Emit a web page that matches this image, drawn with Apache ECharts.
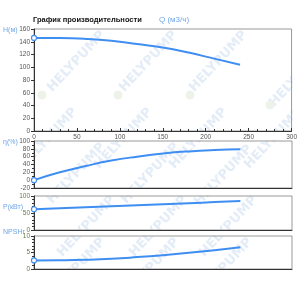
<!DOCTYPE html>
<html>
<head>
<meta charset="utf-8">
<script src="https://cdn.jsdelivr.net/npm/echarts@6/dist/echarts.min.js"></script>
<style>
html,body{margin:0;padding:0;background:#fff;}
#chart{width:300px;height:292px;}
</style>
</head>
<body>
<div id="chart"></div>
<script>
// данные кривых насоса
var flow = [0, 30, 60, 90, 120, 150, 180, 210, 240];
var head = [146, 145.8, 144.5, 141.5, 136.5, 131, 123, 113.5, 104];
var efficiency = [0, 20, 36, 50, 60, 68, 73.5, 77, 79];
var power = [61, 64, 67, 70, 73, 76, 79, 82, 85];
var npsh = [2.6, 2.65, 2.8, 3.1, 3.6, 4.2, 4.9, 5.7, 6.6];
var axisNames = ['H(м)', 'η(%)', 'P(кВт)', 'NPSHr'];

var lineColor = '#3f8ef2';
var font = 'Liberation Sans';

function pairs(ys){
	return flow.map(function(x, i){
		return { value: [x, ys[i]], symbol: i === 0 ? 'circle' : 'none' };
	});
}

function makeX(idx, showLabels){
	return {
		type: 'value', gridIndex: idx, min: 0, max: 300, interval: 50, z: 10,
		axisLine: { show: true, onZero: false, lineStyle: { color: '#333', width: 1 } },
		axisTick: { show: showLabels, inside: true, length: 3, lineStyle: { color: '#333' } },
		minorTick: { show: showLabels, splitNumber: 5, length: 2, lineStyle: { color: '#333' } },
		axisLabel: { show: showLabels, fontSize: 6.5, color: '#555', fontFamily: font, margin: 3 },
		splitLine: { show: false }
	};
}

function makeY(idx, min, max, interval, minor, labelColor){
	return {
		type: 'value', gridIndex: idx, min: min, max: max, interval: interval, z: 10,
		axisLine: { show: true, lineStyle: { color: '#333', width: 1 } },
		axisTick: { show: true, length: 3, lineStyle: { color: '#333' } },
		minorTick: { show: minor > 0, splitNumber: minor || 5, length: 2, lineStyle: { color: '#333' } },
		axisLabel: { fontSize: 6.5, color: labelColor, fontFamily: font, margin: 4 },
		splitLine: { show: false }
	};
}

function makeSeries(idx, ys){
	return {
		type: 'line', xAxisIndex: idx, yAxisIndex: idx, data: pairs(ys),
		smooth: true, symbolSize: 5, z: 12,
		itemStyle: { color: '#fff', borderColor: lineColor, borderWidth: 1.2 },
		lineStyle: { color: lineColor, width: 2 },
		silent: true, animation: false
	};
}

var grids = [
	{ left: 34, right: 8, top: 29, height: 102 },
	{ left: 34, right: 8, top: 141, height: 47 },
	{ left: 34, right: 8, top: 196, height: 34 },
	{ left: 34, right: 8, top: 236, height: 33 }
];
grids.forEach(function(g){ g.show = true; g.borderColor = '#999'; g.borderWidth = 1; g.z = 8; });

// водяные знаки (верхний правый конец надписи)
var marks = [];
[[103, 33], [175, 33], [245, 33], [325, 48],
 [75, 110], [150, 110], [225, 110], [300, 110],
 [103, 145], [177, 145], [250, 147],
 [113, 198], [185, 198], [255, 198],
 [103, 240], [177, 240], [250, 240]].forEach(function(p){
	marks.push({
		type: 'text', x: p[0], y: p[1], rotation: 0.82, silent: true, z: 1,
		style: { text: 'HELYPUMP', fill: '#e4edf7', font: 'bold 13px "DejaVu Sans"', align: 'right', verticalAlign: 'middle' }
	});
});
[[42, 95], [118, 95], [190, 95], [270, 105]].forEach(function(p){
	marks.push({ type: 'circle', silent: true, z: 1, shape: { cx: p[0], cy: p[1], r: 4.5 },
		style: { fill: '#eef3ea' } });
});
// белые поля вне областей графиков
[[0, 0, 300, 28.5], [0, 0, 33.5, 292], [292.5, 0, 8, 292], [0, 269.5, 300, 23],
 [0, 131.5, 300, 9], [0, 188.5, 300, 7], [0, 230.5, 300, 5]].forEach(function(r){
	marks.push({ type: 'rect', silent: true, z: 2, shape: { x: r[0], y: r[1], width: r[2], height: r[3] },
		style: { fill: '#fff' } });
});

var nameY = [31, 143, 208, 233];
var labels = axisNames.map(function(n, i){
	return { type: 'text', left: 3, top: nameY[i] - 4, silent: true, z: 3,
		style: { text: n, fill: '#6fa6e8', font: '7px "Liberation Sans"' } };
});

var myChart = echarts.init(document.getElementById('chart'));
myChart.setOption({
	animation: false,
	grid: grids,
	xAxis: [makeX(0, true), makeX(1, false), makeX(2, false), makeX(3, false)],
	yAxis: [
		makeY(0, 0, 160, 20, 0, '#555'),
		makeY(1, -20, 100, 20, 2, '#555'),
		makeY(2, 0, 100, 50, 5, '#6b7a4a'),
		makeY(3, 0, 10, 5, 5, '#6b7a4a')
	],
	series: [
		makeSeries(0, head),
		makeSeries(1, efficiency),
		makeSeries(2, power),
		makeSeries(3, npsh)
	],
	graphic: marks.concat(labels).concat([
		{ type: 'text', left: 33, top: 16, silent: true, z: 3,
			style: { text: 'График производительности', fill: '#111', font: 'bold 7.5px "Liberation Sans"' } },
		{ type: 'text', left: 159, top: 16, silent: true, z: 3,
			style: { text: 'Q (м3/ч)', fill: '#6fa6e8', font: '8px "Liberation Sans"' } }
	])
});
</script>
</body>
</html>
